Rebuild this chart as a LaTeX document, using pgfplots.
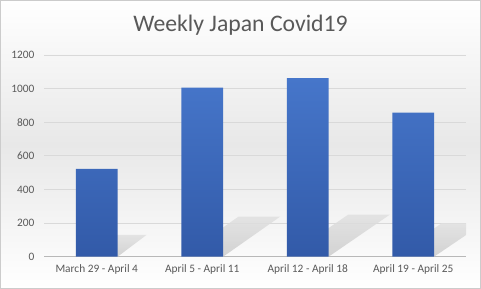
\documentclass[border=0pt]{standalone}
\usepackage{fontspec}
\setmainfont{Carlito}
\usepackage{pgfplots}
\pgfplotsset{compat=1.18}
\definecolor{barTop}{RGB}{70,118,202}
\definecolor{barBot}{RGB}{50,90,168}
\definecolor{txt}{RGB}{89,89,89}
\definecolor{gridc}{RGB}{217,217,217}
\definecolor{titlec}{RGB}{89,89,89}
\begin{document}
\begin{tikzpicture}
\path[use as bounding box] (-44bp,-32.3bp) rectangle (437bp,256.7bp);
\shade[top color=white, bottom color=white, middle color=black!9, draw=black!20, line width=1.2bp] (-43.4bp,-31.7bp) rectangle (436.4bp,256.1bp);
\begin{axis}[
  at={(0,0)}, anchor=south west,
  scale only axis, width=422bp, height=201.7bp,
  xmin=-0.5, xmax=3.5, ymin=0, ymax=1200,
  ytick={0,200,...,1200},
  xtick={0,1,2,3},
  xticklabels={March 29 - April 4, April 5 - April 11, April 12 - April 18, April 19 - April 25},
  ymajorgrids, grid style={draw=gridc, line width=0.8bp},
  axis x line*=bottom, axis y line*=left,
  x axis line style={draw=gridc!85!black, line width=0.8bp, -},
  y axis line style={draw=none},
  major tick length=0pt,
  tick label style={font=\fontsize{11.4}{13}\selectfont, text=txt},
  /pgf/number format/assume math mode=true,
  /pgf/number format/1000 sep={},
  yticklabel style={xshift=-6bp},
  xticklabel style={yshift=-4bp},
]
% soft shadows behind the bars
\pgfplotsset{shadowstyle/.style={draw=none, top color=black!12, middle color=black!34, bottom color=black!20, opacity=0.85}}
\addplot[shadowstyle]
  coordinates {(-0.1976,0) (0.1976,0) (0.4726,130) (0.0774,130)} -- cycle;
\addplot[shadowstyle]
  coordinates {(0.8024,0) (1.1976,0) (1.7376,238) (1.3424,238)} -- cycle;
\addplot[shadowstyle]
  coordinates {(1.8024,0) (2.1976,0) (2.7776,250) (2.3824,250)} -- cycle;
\addplot[shadowstyle]
  coordinates {(2.8024,0) (3.1976,0) (3.6676,200) (3.2724,200)} -- cycle;
% bars
\addplot[ybar, bar width=41.7bp, draw=none, top color=barTop, bottom color=barBot]
  coordinates {(0,523) (1,1006) (2,1062) (3,857)};
\end{axis}
\node[font=\fontsize{23.8}{27}\selectfont, text=titlec] at (196.5bp,231.7bp) {Weekly Japan Covid19};
\end{tikzpicture}
\end{document}
